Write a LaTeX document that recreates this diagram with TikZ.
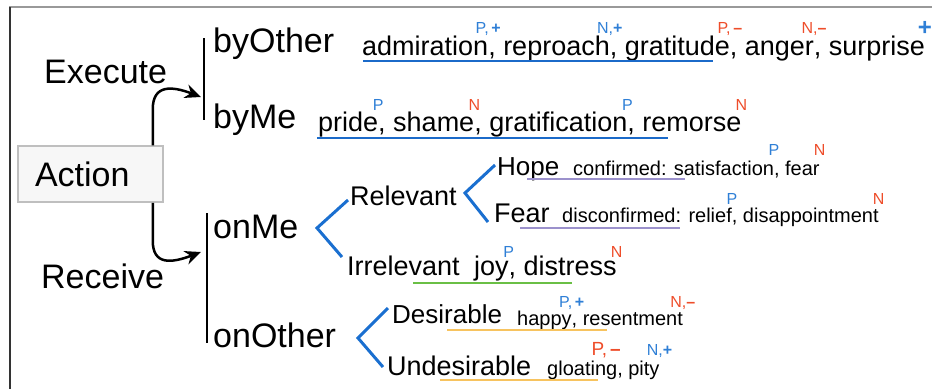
\documentclass[tikz,border=0pt]{standalone}
\usepackage{fontspec}
\setmainfont{Liberation Sans}
\usetikzlibrary{arrows.meta}

\definecolor{supblue}{HTML}{2F7FD6}
\definecolor{supred}{HTML}{EE4D2A}
\definecolor{lineblue}{HTML}{1B6AC9}
\definecolor{branchblue}{HTML}{1A6FD0}
\definecolor{linepurple}{HTML}{9B91CC}
\definecolor{linegreen}{HTML}{6ABF45}
\definecolor{lineorange}{HTML}{F7C35F}

% small coloured mark centred over the end of the preceding word
\newcommand\up[3][21pt]{\makebox[0pt][c]{\raisebox{#1}{\fontsize{16}{16}\selectfont\color{#2}#3}}}
\newcommand\plusm{\textbf{+}}
\newcommand\minusm{\textbf{–}}

\begin{document}
\begin{tikzpicture}[x=1pt,y=-1pt,
  big/.style={font=\fontsize{34}{36}\selectfont, inner sep=0pt, anchor=base west},
  mid/.style={font=\fontsize{27}{30}\selectfont, inner sep=0pt, anchor=base west},
  small/.style={font=\fontsize{20}{22}\selectfont, inner sep=0pt, anchor=base west},
  bar/.style={line width=2.5pt, black},
  arr/.style={line width=2.5pt, black, -{Stealth[length=16pt,width=14pt]}},
  branch/.style={line width=3pt, branchblue, line join=miter},
  uline/.style={line width=2.5pt}]

\useasboundingbox (0,0) rectangle (932,389);

% frame
\draw[line width=2.5pt, gray!80] (9,7) -- (932,7);
\draw[line width=2pt, black!80] (9.5,7) -- (9.5,389);

% root box
\node (Action) [draw=black!25, fill=black!3, line width=1.5pt, inner xsep=17pt, inner ysep=0pt,
  minimum height=56pt, font=\fontsize{34}{36}\selectfont]
  at (90.5,174) {\makebox[111pt][l]{Action}};

% first level labels
\node[big] (exec) at (44,83) {Execute};
\node[big] (recv) at (41,288) {Receive};

% bars
\coordinate (b1top) at (204,38);
\coordinate (b1bot) at (204,120);
\coordinate (b2top) at (207,213);
\coordinate (b2bot) at (207,343);
\draw[bar] (b1top) -- (b1bot);
\draw[bar] (b2top) -- (b2bot);

% arrows from the root box
\coordinate (t1) at (201,97);
\coordinate (t2) at (201,252);
\draw[arr] ([xshift=-11pt]Action.north east) -- ++(0,-36) .. controls +(0,-25) and (172,86) .. (t1);
\draw[arr] ([xshift=-11pt]Action.south east) -- ++(0,38) .. controls +(0,25) and (172,263) .. (t2);

% second level
\node[big] (byOther) at (213,52) {byOther};
\node[big] (byMe) at (213,128) {byMe};
\node[big] (onMe) at (213,238) {onMe};
\node[big] (onOther) at (213,347) {onOther};

% emotions of the execute branch
\node[mid] (execother) at (362,55)
  {admiration\up[22pt]{supblue}{P,\,\plusm}, reproach\up[22pt]{supblue}{N,\plusm}, gratitude\up[22pt]{supred}{P,\,\minusm}, anger\up[22pt]{supred}{N,\minusm}, surprise\up[20pt]{supblue}{\fontsize{24}{24}\selectfont\plusm}};
\node[mid] (execme) at (318,131)
  {pride\up{supblue}{P}, shame\up{supred}{N}, gratification\up{supblue}{P}, remorse\up{supred}{N}};
\draw[uline, lineblue] (363,61) -- (713,61);
\draw[uline, lineblue] (317,138) -- (668,138);

% receive branch: onMe
\draw[branch] (348,200) -- (317,228) -- (342,257);
\node[mid] (relevant) at (350,205) {Relevant};
\node[mid] (irrelevant) at (347,275) {Irrelevant};
\draw[branch] (495,165) -- (465,193) -- (488,222);
\node[mid, font=\fontsize{26}{30}\selectfont] (hope) at (497,175) {Hope};
\node[mid] (fear) at (494,222) {Fear};
\node[small] (hopeem) at (573,175)
  {confirmed: satisfaction\up[20pt]{supblue}{P}, fear\up[20pt]{supred}{N}};
\node[small] (fearem) at (562,222)
  {disconfirmed: relief\up[18pt]{supblue}{P}, disappointment\up[18pt]{supred}{N}};
\node[mid] (irrem) at (474,275)
  {joy\up[18pt]{supblue}{P}, distress\up[18pt]{supred}{N}};
\draw[uline, linepurple] (527,179) -- (685,179);
\draw[uline, linepurple] (520,228) -- (680,228);
\draw[uline, linegreen] (413,283) -- (572,283);

% receive branch: onOther
\draw[branch] (388,308) -- (358,338) -- (383,367);
\node[mid, font=\fontsize{26}{30}\selectfont] (desirable) at (392,323) {Desirable};
\node[mid, font=\fontsize{27}{30}\selectfont] (undesirable) at (387,375) {Undesirable};
\node[small] (desem) at (517,325)
  {happy\up[18pt]{supblue}{P,\,\plusm}, resentment\up[18pt]{supred}{N,\minusm}};
\node[small] (undesem) at (547,375)
  {gloatin\up[20pt]{supred}{\fontsize{19}{19}\selectfont P,\,\minusm}g, pity\up[20pt]{supblue}{N,\plusm}};
\draw[uline, lineorange] (447,330) -- (607,330);
\draw[uline, lineorange] (440,380) -- (598,380);

\end{tikzpicture}
\end{document}
